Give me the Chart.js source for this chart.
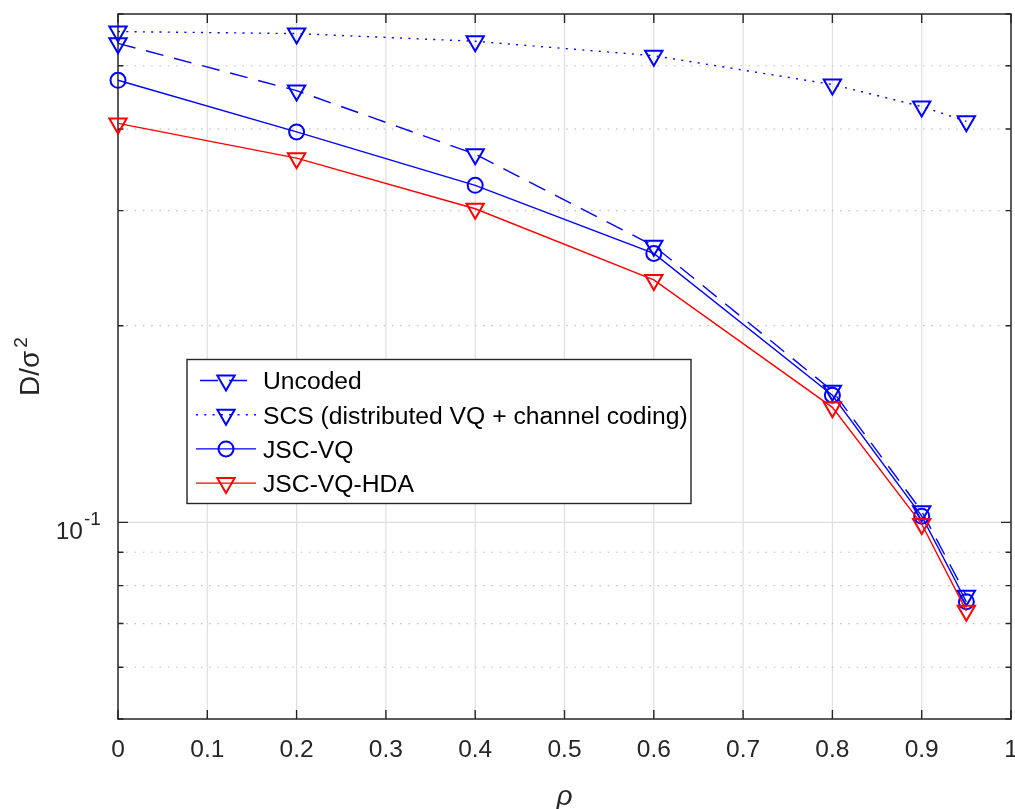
<!DOCTYPE html>
<html><head><meta charset="utf-8">
<script src="https://cdn.jsdelivr.net/npm/chart.js@4/dist/chart.umd.min.js"></script>
<style>html,body{margin:0;padding:0;background:#fff;} #wrap{width:1015px;height:809px;}</style>
</head><body><div id="wrap"><canvas id="c" width="1015" height="809"></canvas></div>
<script>
// ---- data ----
const rho = [0, 0.2, 0.4, 0.6, 0.8, 0.9, 0.95];
const uncoded = [0.541, 0.458, 0.366, 0.265, 0.159, 0.104, 0.0772];
const scs = [0.564, 0.560, 0.545, 0.518, 0.468, 0.433, 0.411];
const jscVQ = [0.475, 0.396, 0.328, 0.258, 0.1565, 0.1022, 0.0756];
const jscVQHDA = [0.408, 0.361, 0.302, 0.235, 0.150, 0.0994, 0.0732];
const seriesNames = ['Uncoded', 'SCS (distributed VQ + channel coding)', 'JSC-VQ', 'JSC-VQ-HDA'];
const xTickValues = [0, 0.1, 0.2, 0.3, 0.4, 0.5, 0.6, 0.7, 0.8, 0.9, 1];
const xTickLabels = ['0', '0.1', '0.2', '0.3', '0.4', '0.5', '0.6', '0.7', '0.8', '0.9', '1'];
const yTickValues = [0.05, 0.06, 0.07, 0.08, 0.09, 0.1, 0.2, 0.3, 0.4, 0.5, 0.6];
const yMajorTicks = [0.1];
const yTickLabelBase = '10';
const yTickLabelExp = '-1';
const xTitle = 'ρ';
const yTitleMain = 'D/σ';
const yTitleExp = '2';

const FONT = '"Liberation Sans", Arial, Helvetica, sans-serif';
const AX = '#262626';
Chart.defaults.font.family = FONT;

function pts(ys) { return rho.map((x, i) => ({ x: x, y: ys[i] })); }

const common = {
  borderWidth: 1.4, fill: false, tension: 0, clip: false,
  pointBackgroundColor: 'rgba(0,0,0,0)', pointBorderWidth: 2,
  pointHoverRadius: 10, pointHitRadius: 0
};

const datasets = [
  Object.assign({}, common, { label: seriesNames[0], data: pts(uncoded), borderColor: '#0000ff', pointBorderColor: '#0000ff',
    borderDash: [18, 11], pointStyle: 'triangle', pointRotation: 180, pointRadius: 10, order: 4 }),
  Object.assign({}, common, { label: seriesNames[1], data: pts(scs), borderColor: '#0000ff', pointBorderColor: '#0000ff',
    borderDash: [2, 6.3], pointStyle: 'triangle', pointRotation: 180, pointRadius: 10, order: 3 }),
  Object.assign({}, common, { label: seriesNames[2], data: pts(jscVQ), borderColor: '#0000ff', pointBorderColor: '#0000ff',
    borderDash: [], pointStyle: 'circle', pointRadius: 7.5, order: 2 }),
  Object.assign({}, common, { label: seriesNames[3], data: pts(jscVQHDA), borderColor: '#ff0000', pointBorderColor: '#ff0000',
    borderDash: [], pointStyle: 'triangle', pointRotation: 180, pointRadius: 10, order: 1 })
];

function drawMarker(ctx, style, cx, cy, r, color, lw) {
  ctx.save();
  ctx.setLineDash([]);
  ctx.strokeStyle = color; ctx.lineWidth = lw;
  ctx.beginPath();
  if (style === 'circle') {
    ctx.arc(cx, cy, r, 0, Math.PI * 2);
  } else {
    const s = Math.sin(Math.PI / 3) * r;
    ctx.moveTo(cx, cy + r);
    ctx.lineTo(cx - s, cy - r / 2);
    ctx.lineTo(cx + s, cy - r / 2);
    ctx.closePath();
  }
  ctx.stroke();
  ctx.restore();
}

const framePlugin = {
  id: 'matlabFrame',
  beforeDatasetsDraw(chart) {
    const ctx = chart.ctx, a = chart.chartArea, xs = chart.scales.x, ys = chart.scales.y;
    ctx.save();
    // vertical grid
    ctx.strokeStyle = '#dfdfdf'; ctx.lineWidth = 1.2; ctx.setLineDash([]);
    xTickValues.forEach(v => {
      const x = xs.getPixelForValue(v);
      if (x <= a.left + 1 || x >= a.right - 1) return;
      ctx.beginPath(); ctx.moveTo(x, a.top); ctx.lineTo(x, a.bottom); ctx.stroke();
    });
    // horizontal grid
    yTickValues.forEach(v => {
      const y = ys.getPixelForValue(v);
      if (y <= a.top + 1 || y >= a.bottom - 1) return;
      ctx.beginPath();
      if (yMajorTicks.includes(v)) { ctx.setLineDash([]); ctx.strokeStyle = '#dfdfdf'; ctx.lineWidth = 1.2; }
      else { ctx.setLineDash([1.5, 6.8]); ctx.strokeStyle = '#bdbdbd'; ctx.lineWidth = 1.2; }
      ctx.moveTo(a.left, y); ctx.lineTo(a.right, y); ctx.stroke();
    });
    ctx.setLineDash([]);
    // box
    ctx.strokeStyle = AX; ctx.lineWidth = 1.5;
    ctx.strokeRect(a.left, a.top, a.right - a.left, a.bottom - a.top);
    // ticks
    ctx.lineWidth = 1.4;
    xTickValues.forEach(v => {
      const x = xs.getPixelForValue(v);
      ctx.beginPath();
      ctx.moveTo(x, a.bottom); ctx.lineTo(x, a.bottom - 9);
      ctx.moveTo(x, a.top); ctx.lineTo(x, a.top + 9);
      ctx.stroke();
    });
    yTickValues.forEach(v => {
      const y = ys.getPixelForValue(v);
      const L = yMajorTicks.includes(v) ? 10 : 5.5;
      ctx.beginPath();
      ctx.moveTo(a.left, y); ctx.lineTo(a.left + L, y);
      ctx.moveTo(a.right, y); ctx.lineTo(a.right - L, y);
      ctx.stroke();
    });
    ctx.restore();
  },
  afterDraw(chart) {
    const ctx = chart.ctx, a = chart.chartArea, ys = chart.scales.y;
    ctx.save();
    // y tick label 10^-1
    const y0 = ys.getPixelForValue(yMajorTicks[0]);
    ctx.fillStyle = AX;
    ctx.font = '24.5px ' + FONT;
    ctx.textAlign = 'right'; ctx.textBaseline = 'alphabetic';
    ctx.fillText(yTickLabelBase, a.left - 35, y0 + 16.5);
    ctx.font = '19px ' + FONT;
    ctx.textAlign = 'left';
    ctx.fillText(yTickLabelExp, a.left - 34, y0 + 3);
    // y title
    const cy = (a.top + a.bottom) / 2;
    ctx.translate(39, cy);
    ctx.rotate(-Math.PI / 2);
    ctx.font = '28px ' + FONT;
    const w1 = ctx.measureText(yTitleMain).width;
    ctx.font = '19px ' + FONT;
    const w2 = ctx.measureText(yTitleExp).width;
    const gap = 3;
    const total = w1 + gap + w2;
    ctx.textAlign = 'left';
    ctx.font = '28px ' + FONT;
    ctx.fillText(yTitleMain, -total / 2, 0);
    ctx.font = '19px ' + FONT;
    ctx.fillText(yTitleExp, -total / 2 + w1 + gap, -12);
    ctx.restore();

    // legend
    ctx.save();
    const lx = a.left + 69, ly = a.top + 345.5, lw = 504, lh = 144;
    ctx.fillStyle = '#ffffff';
    ctx.fillRect(lx, ly, lw, lh);
    ctx.strokeStyle = AX; ctx.lineWidth = 1.4;
    ctx.strokeRect(lx, ly, lw, lh);
    chart.data.datasets.forEach((ds, i) => {
      const ry = ly + 21 + i * 34.2;
      ctx.save();
      ctx.strokeStyle = ds.borderColor; ctx.lineWidth = ds.borderWidth;
      ctx.setLineDash(ds.borderDash || []);
      ctx.lineDashOffset = (ds.borderDash && ds.borderDash.length && ds.borderDash[0] > 10) ? -4 : 0;
      ctx.beginPath(); ctx.moveTo(lx + 9, ry); ctx.lineTo(lx + 69, ry); ctx.stroke();
      ctx.restore();
      drawMarker(ctx, ds.pointStyle, lx + 39, ry, ds.pointRadius, ds.pointBorderColor, ds.pointBorderWidth);
      ctx.fillStyle = '#000000';
      ctx.font = '24.7px ' + FONT;
      ctx.textAlign = 'left'; ctx.textBaseline = 'middle';
      ctx.fillText(ds.label, lx + 76, ry + 2);
    });
    ctx.restore();
  }
};

new Chart(document.getElementById('c'), {
  type: 'line',
  data: { datasets: datasets },
  options: {
    responsive: false, animation: false, devicePixelRatio: 1,
    layout: { autoPadding: false, padding: { left: 0, right: 4, top: 14, bottom: 0 } },
    plugins: { legend: { display: false }, tooltip: { enabled: false } },
    events: [],
    scales: {
      x: {
        type: 'linear', position: 'bottom', min: 0, max: 1,
        grid: { display: false, drawTicks: false, tickLength: 0 },
        border: { display: false },
        afterBuildTicks(s) { s.ticks = xTickValues.map(v => ({ value: v })); },
        afterFit(s) { s.height = 90; s.paddingLeft = 0; s.paddingRight = 0; },
        ticks: {
          autoSkip: false, maxRotation: 0, minRotation: 0, padding: 17,
          color: AX, font: { size: 24.5, family: FONT },
          callback: (v, i) => xTickLabels[i]
        },
        title: { display: true, text: xTitle, color: AX, font: { size: 28, style: 'italic', family: FONT }, padding: { top: 0, bottom: -5 } }
      },
      y: {
        type: 'logarithmic', min: 0.05, max: 0.6,
        grid: { display: false, drawTicks: false, tickLength: 0 },
        border: { display: false },
        afterBuildTicks(s) { s.ticks = yTickValues.map(v => ({ value: v })); },
        afterFit(s) { s.width = 118; s.paddingTop = 0; s.paddingBottom = 0; },
        ticks: { display: false }
      }
    }
  },
  plugins: [framePlugin]
});
</script>
</body></html>
